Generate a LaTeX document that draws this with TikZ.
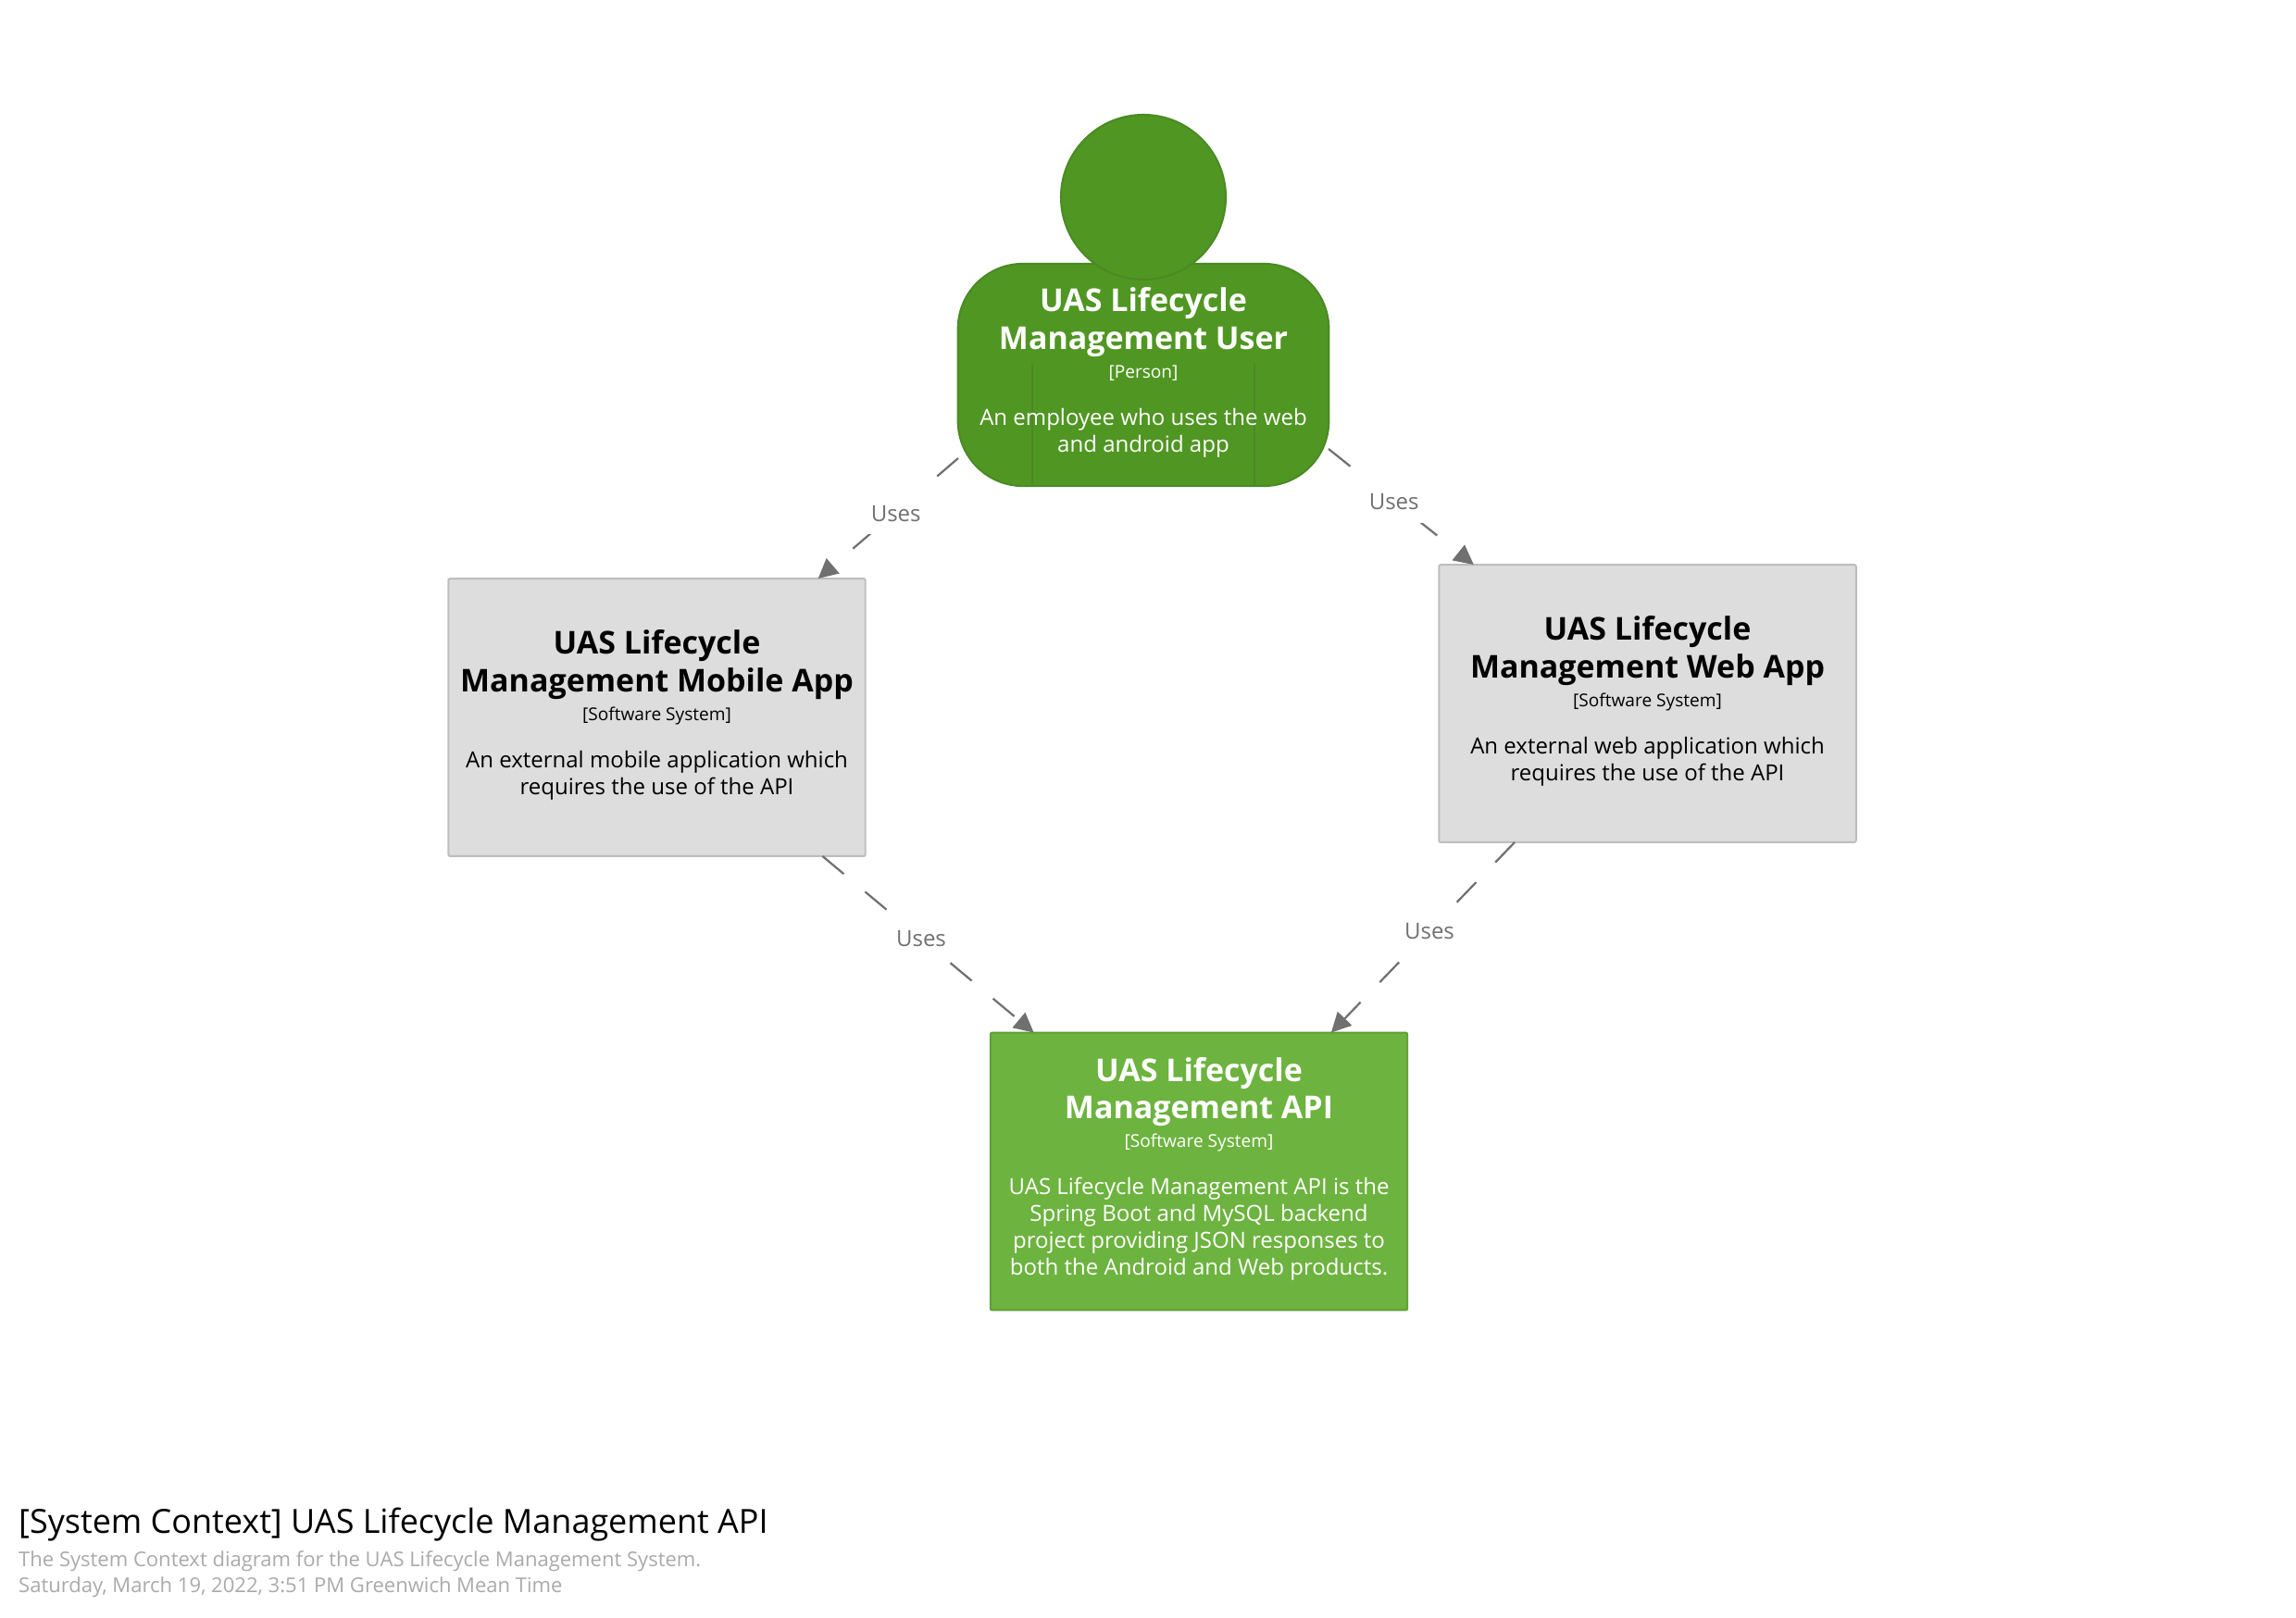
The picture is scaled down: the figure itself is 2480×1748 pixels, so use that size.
\documentclass[tikz,border=0pt]{standalone}
\usepackage{fontspec}
\setmainfont{Open Sans}
\usetikzlibrary{arrows.meta}
\definecolor{persfill}{HTML}{509623}
\definecolor{persline}{HTML}{4A8A24}
\definecolor{apifill}{HTML}{6DB33F}
\definecolor{apiline}{HTML}{5FA035}
\definecolor{sysfill}{HTML}{DDDDDD}
\definecolor{sysline}{HTML}{BDBDBD}
\definecolor{connc}{HTML}{707070}
\definecolor{footc}{HTML}{AAAAAA}
\newcommand{\elemtext}[3]{\begin{minipage}{375pt}\centering
  {\fontsize{29pt}{34.8pt}\selectfont\bfseries #1\par}\vspace{4.5pt}
  {\fontsize{16.3pt}{22pt}\selectfont #2\par}\vspace{19pt}
  {\fontsize{20.5pt}{24.6pt}\selectfont #3\par}\vspace{5pt}\end{minipage}}
\tikzset{
  sysbox/.style={draw, line width=1.7pt, rounded corners=1.7pt, minimum width=384.5pt, minimum height=256pt, inner sep=0pt, outer sep=0pt, align=center},
  extbox/.style={sysbox, fill=sysfill, draw=sysline, text=black},
  corebox/.style={sysbox, fill=apifill, draw=apiline, text=white},
  conn/.style={draw=connc, line width=1.9pt, dash pattern=on 25.6pt off 25.6pt, -{Triangle[length=18pt,width=18pt,fill=connc]}},
  uselabel/.style={fill=white, text=connc, font=\fontsize{20.5pt}{24pt}\selectfont, inner xsep=6pt, inner ysep=12pt},
  perspart/.style={draw=persline, fill=persfill, line width=1.7pt},
  footbig/.style={anchor=base west, inner sep=0pt, font=\fontsize{30.7pt}{36pt}\selectfont, text=black},
  footsmall/.style={anchor=base west, inner sep=0pt, font=\fontsize{18.8pt}{24pt}\selectfont, text=footc}
}
\begin{document}
\begin{tikzpicture}[x=0.03cm,y=-0.03cm]
\useasboundingbox (0,0) rectangle (2480,1748);
% person
\node[perspart, rounded corners=60pt, minimum width=342pt, minimum height=205pt, inner sep=0pt, outer sep=0pt] (user) at (1235,405) {};
\draw[persline, line width=1.7pt] (1115,392) -- (1115,525);
\draw[persline, line width=1.7pt] (1355,392) -- (1355,525);
\node[perspart, circle, minimum size=152pt, inner sep=0pt, outer sep=0pt] (head) at (1235,213) {};
\node[text=white, inner sep=0pt, align=center] (usertext) at (1235,405.5) {\elemtext{UAS Lifecycle\\Management User}{[Person]}{An employee who uses the web\\and android app}};
\coordinate (userL) at (1035,495);
\coordinate (userR) at (1435,485);
% systems
\node[extbox] (mobile) at (709.5,775) {\elemtext{UAS Lifecycle\\Management Mobile App}{[Software System]}{An external mobile application which\\requires the use of the API}};
\node[extbox] (web) at (1779.5,760) {\elemtext{UAS Lifecycle\\Management Web App}{[Software System]}{An external web application which\\requires the use of the API}};
\node[corebox] (api) at (1295,1265.5) {\elemtext{UAS Lifecycle\\Management API}{[Software System]}{UAS Lifecycle Management API is the\\Spring Boot and MySQL backend\\project providing JSON responses to\\both the Android and Web products.}};
% connectors
\draw[conn] (userL) -- (mobile);
\draw[conn] (userR) -- (web);
\draw[conn] (mobile) -- (api);
\draw[conn] (web) -- (api);
\node[uselabel] (l1) at (967.7,554.7) {Uses};
\node[uselabel] (l2) at (1505.7,542.5) {Uses};
\node[uselabel] (l3) at (995,1014) {Uses};
\node[uselabel] (l4) at (1544,1006) {Uses};
% footer
\node[footbig] (ft) at (20,1656) {[System Context] UAS Lifecycle Management API};
\node[footsmall] (fs) at (20,1692) {The System Context diagram for the UAS Lifecycle Management System.};
\node[footsmall] (fd) at (20,1720) {Saturday, March 19, 2022, 3:51 PM Greenwich Mean Time};
\end{tikzpicture}
\end{document}
